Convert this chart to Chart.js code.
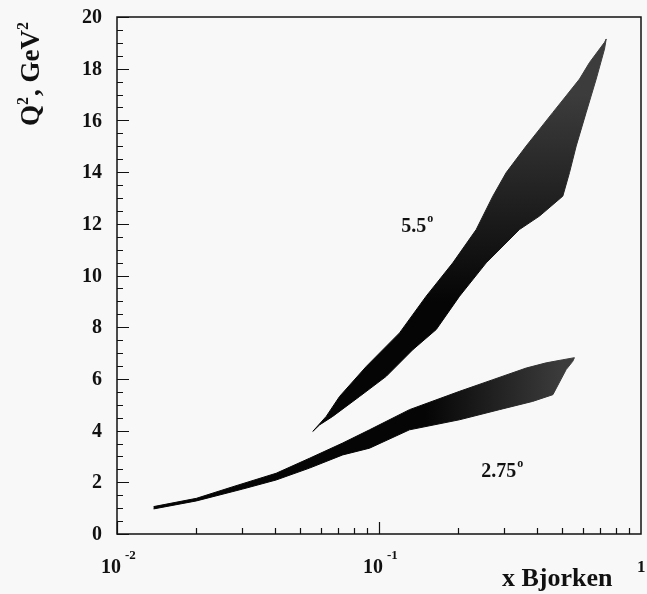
<!DOCTYPE html>
<html>
<head>
<meta charset="utf-8">
<script src="https://cdn.jsdelivr.net/npm/chart.js@4"></script>
<style>
  html, body { margin: 0; background: #f8f8f8; }
  #wrap { width: 647px; height: 594px; }
</style>
</head>
<body>
<div id="wrap"><canvas id="c" width="647" height="594"></canvas></div>
<script>
// axis ticks
var xDecades = [0.01, 0.1, 1];
var xDecadeExp = ['-2', '-1', ''];
var yTicks = [0, 2, 4, 6, 8, 10, 12, 14, 16, 18, 20];

// 5.5 deg band: upper (left) edge and lower (right) edge, x Bjorken vs Q^2
var band55UpperX = [0.0559, 0.0629, 0.0707, 0.0894, 0.1198, 0.1514, 0.1913, 0.235, 0.272, 0.3058, 0.3646, 0.41, 0.461, 0.518, 0.5825, 0.6361, 0.7256, 0.7366];
var band55UpperQ2 = [3.97, 4.55, 5.32, 6.48, 7.78, 9.20, 10.49, 11.78, 13.07, 13.98, 15.01, 15.66, 16.31, 16.95, 17.60, 18.24, 19.02, 19.15];
var band55LowerX = [0.0559, 0.0593, 0.0666, 0.0843, 0.1066, 0.1346, 0.1654, 0.203, 0.2566, 0.3438, 0.41, 0.503, 0.5335, 0.5659, 0.6177, 0.6745, 0.7256, 0.7366];
var band55LowerQ2 = [3.97, 4.22, 4.55, 5.32, 6.10, 7.13, 7.91, 9.20, 10.49, 11.78, 12.30, 13.07, 13.98, 15.01, 16.31, 17.60, 18.76, 19.15];

// 2.75 deg band
var band275UpperX = [0.0138, 0.0201, 0.0277, 0.0405, 0.0543, 0.0727, 0.092, 0.1307, 0.203, 0.272, 0.3646, 0.4345, 0.503, 0.557];
var band275UpperQ2 = [1.06, 1.38, 1.83, 2.35, 2.93, 3.52, 4.03, 4.81, 5.52, 5.97, 6.42, 6.62, 6.74, 6.82];
var band275LowerX = [0.0138, 0.0201, 0.0302, 0.0405, 0.0543, 0.0727, 0.092, 0.1307, 0.203, 0.288, 0.386, 0.461, 0.518, 0.549, 0.557];
var band275LowerQ2 = [0.97, 1.28, 1.74, 2.09, 2.55, 3.06, 3.32, 4.03, 4.42, 4.81, 5.13, 5.39, 6.36, 6.68, 6.82];

// angle labels: text, anchor x, anchor Q^2
var angleText = ['5.5', '2.75'];
var angleX = [0.1215, 0.2455];
var angleQ2 = [11.67, 2.21];

var serif = '"Liberation Serif", "DejaVu Serif", serif';

// closed outline: upper edge left to right, then lower edge back
function outline(ux, uy, lx, ly) {
    var pts = [];
    for (var i = 0; i < ux.length; i++) pts.push({x: ux[i], y: uy[i]});
    for (var j = lx.length - 1; j >= 0; j--) pts.push({x: lx[j], y: ly[j]});
    return pts;
}

// dense near the origin, speckled (greyer) further out
function bandShade(axis, from, to) {
    return function(context) {
        var chart = context.chart;
        if (!chart.chartArea) return '#111';
        var s = chart.scales[axis];
        var a = s.getPixelForValue(from), b = s.getPixelForValue(to);
        var g = axis === 'x'
            ? chart.ctx.createLinearGradient(a, 0, b, 0)
            : chart.ctx.createLinearGradient(0, a, 0, b);
        g.addColorStop(0, '#050505');
        g.addColorStop(1, '#3c3c3c');
        return g;
    };
}

var framePlugin = {
    id: 'frame',
    afterDraw: function(chart) {
        var c = chart.ctx, a = chart.chartArea;
        var xs = chart.scales.x, ys = chart.scales.y;
        c.save();
        c.strokeStyle = '#111';
        c.lineWidth = 1.5;
        c.strokeRect(a.left, a.top, a.right - a.left, a.bottom - a.top);

        // inward ticks
        c.lineWidth = 1.2;
        c.beginPath();
        for (var v = 0; v <= 20; v += 0.5) {
            var py = Math.round(ys.getPixelForValue(v)) + 0.5;
            var len = (v % 2 === 0) ? 12 : 6;
            c.moveTo(a.left, py);
            c.lineTo(a.left + len, py);
        }
        for (var d = 0; d < xDecades.length - 1; d++) {
            for (var m = 1; m <= 9; m++) {
                var px = Math.round(xs.getPixelForValue(m * xDecades[d])) + 0.5;
                var l = (m === 1) ? 12 : 6;
                c.moveTo(px, a.bottom);
                c.lineTo(px, a.bottom - l);
            }
        }
        c.stroke();

        c.fillStyle = '#111';
        // y tick labels
        c.font = 'bold 20px ' + serif;
        c.textAlign = 'right';
        c.textBaseline = 'middle';
        yTicks.forEach(function(t) {
            c.fillText(String(t), a.left - 15, ys.getPixelForValue(t) + 1);
        });

        // x decade labels with superscript exponents
        c.textAlign = 'left';
        c.textBaseline = 'alphabetic';
        xDecades.forEach(function(t, i) {
            var px = xs.getPixelForValue(t);
            if (xDecadeExp[i] === '') {
                c.font = 'bold 17px ' + serif;
                c.fillText('1', px - 4, a.bottom + 38);
                return;
            }
            c.font = 'bold 20px ' + serif;
            c.fillText('10', px - 16, a.bottom + 39);
            c.font = 'bold 13px ' + serif;
            c.fillText(xDecadeExp[i], px + 8, a.bottom + 25);
        });

        // axis titles
        c.font = 'bold 26px ' + serif;
        c.fillText('x Bjorken', 502, 586);

        c.save();
        c.translate(39, 126);
        c.rotate(-Math.PI / 2);
        var parts = [['Q', 27, 0], ['2', 16, -11], [', GeV', 27, 0], ['2', 16, -11]];
        var off = 0;
        parts.forEach(function(p) {
            c.font = 'bold ' + p[1] + 'px ' + serif;
            c.fillText(p[0], off, p[2]);
            off += c.measureText(p[0]).width + (p[1] === 16 ? 1 : 0);
        });
        c.restore();

        // angle labels
        angleText.forEach(function(t, i) {
            var px = xs.getPixelForValue(angleX[i]);
            var py = ys.getPixelForValue(angleQ2[i]);
            c.font = 'bold 20px ' + serif;
            c.fillText(t, px, py);
            var w = c.measureText(t).width;
            c.font = 'bold 12px ' + serif;
            c.fillText('o', px + w + 1, py - 10);
        });
        c.restore();
    }
};

var ctx = document.getElementById('c').getContext('2d');
new Chart(ctx, {
    type: 'line',
    data: {
        datasets: [{
            label: '5.5',
            data: outline(band55UpperX, band55UpperQ2, band55LowerX, band55LowerQ2),
            fill: 'shape',
            backgroundColor: bandShade('y', 9, 17),
            borderColor: bandShade('y', 9, 17),
            borderWidth: 1,
            pointRadius: 0,
            tension: 0
        }, {
            label: '2.75',
            data: outline(band275UpperX, band275UpperQ2, band275LowerX, band275LowerQ2),
            fill: 'shape',
            backgroundColor: bandShade('x', 0.15, 0.5),
            borderColor: bandShade('x', 0.15, 0.5),
            borderWidth: 1,
            pointRadius: 0,
            tension: 0
        }]
    },
    options: {
        responsive: false,
        animation: false,
        layout: { padding: { left: 117, right: 6, top: 17, bottom: 60 } },
        plugins: { legend: { display: false }, tooltip: { enabled: false } },
        scales: {
            x: { type: 'logarithmic', min: 0.01, max: 1, display: false },
            y: { type: 'linear', min: 0, max: 20, display: false }
        }
    },
    plugins: [framePlugin]
});
</script>
</body>
</html>
